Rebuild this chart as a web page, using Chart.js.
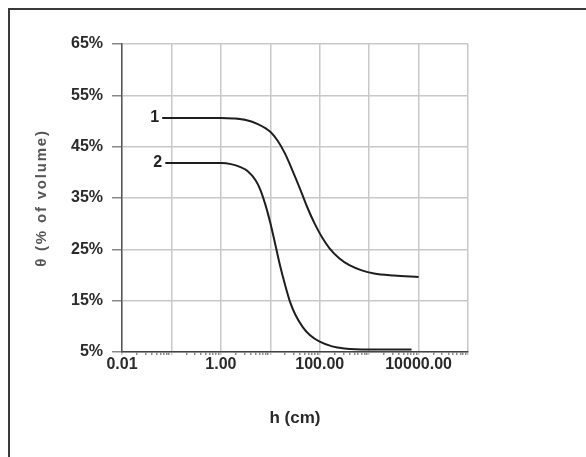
<!DOCTYPE html>
<html>
<head>
<meta charset="utf-8">
<script src="https://cdn.jsdelivr.net/npm/chart.js@4/dist/chart.umd.min.js"></script>
<style>
  html, body { margin: 0; padding: 0; background: #fff; }
  #wrap { position: relative; width: 586px; height: 457px; overflow: hidden; background: #fff; }
  #frame { position: absolute; left: 8px; top: 8px; width: 700px; height: 600px;
           border-top: 2px solid #3a3a3a; border-left: 2px solid #3a3a3a; }
  canvas { position: absolute; left: 0; top: 0; }
</style>
</head>
<body>
<div id="wrap">
  <div id="frame"></div>
  <canvas id="c" width="586" height="457"></canvas>
</div>
<script>
// ---- data ----
const curveLabels = ["1", "2"];
const hCurve1 = [0.065, 0.1, 0.32, 1, 1.8, 3.2, 5.6, 10, 14, 20, 28, 40, 56, 79, 112, 158, 251, 398, 708, 1259, 3162, 10000];
const thetaCurve1 = [50.6, 50.6, 50.6, 50.6, 50.5, 50.2, 49.4, 47.9, 46.2, 43.6, 40.4, 36.8, 33.2, 30.0, 27.3, 25.2, 23.2, 21.9, 20.9, 20.3, 19.9, 19.6];
const hCurve2 = [0.075, 0.3, 1, 1.6, 2.5, 3.5, 5, 6.3, 7.9, 10, 12.6, 15.8, 20, 25, 32, 45, 63, 100, 178, 316, 1000, 7200];
const thetaCurve2 = [41.8, 41.8, 41.8, 41.6, 41.0, 40.2, 38.5, 36.6, 33.8, 30.2, 26.0, 21.8, 18.0, 14.8, 12.3, 9.9, 8.3, 7.0, 6.1, 5.7, 5.5, 5.5];
const xDecades = [0.01, 0.1, 1, 10, 100, 1000, 10000, 100000];
const xTickLabels = ["0.01", "", "1.00", "", "100.00", "", "10000.00", ""];
const yTicks = [5, 15, 25, 35, 45, 55, 65];
const xTitle = "h (cm)";
const yTitle = "θ (% of volume)";

const FONT = "'Liberation Sans', Arial, sans-serif";

function pts(xs, ys) { return xs.map((x, i) => ({ x: x, y: ys[i] })); }

function isDecade(v) {
  return xDecades.some(d => Math.abs(v - d) / d < 1e-6);
}

const curveLabelPlugin = {
  id: 'curveLabels',
  afterDatasetsDraw(chart) {
    const ctx = chart.ctx;
    ctx.save();
    ctx.font = "bold 16px " + FONT;
    ctx.fillStyle = "#222";
    ctx.textAlign = "right";
    ctx.textBaseline = "middle";
    chart.data.datasets.forEach((ds, i) => {
      const p = chart.getDatasetMeta(i).data[0];
      ctx.fillText(curveLabels[i], p.x - 3, p.y);
    });
    ctx.restore();
  }
};

const yTitlePlugin = {
  id: 'yTitle',
  afterDraw(chart) {
    const ctx = chart.ctx;
    const a = chart.chartArea;
    ctx.save();
    ctx.translate(42, (a.top + a.bottom) / 2);
    ctx.rotate(-Math.PI / 2);
    ctx.font = "bold 15px " + FONT;
    ctx.fillStyle = "#555";
    ctx.textAlign = "center";
    ctx.textBaseline = "middle";
    try { ctx.letterSpacing = "1.8px"; } catch (e) {}
    ctx.fillText(yTitle, 0, 0);
    ctx.restore();
  }
};

new Chart(document.getElementById('c'), {
  type: 'line',
  data: {
    datasets: [
      { data: pts(hCurve1, thetaCurve1), borderColor: '#1e1e1e', borderWidth: 2,
        pointRadius: 0, fill: false, cubicInterpolationMode: 'monotone' },
      { data: pts(hCurve2, thetaCurve2), borderColor: '#1e1e1e', borderWidth: 2,
        pointRadius: 0, fill: false, cubicInterpolationMode: 'monotone' }
    ]
  },
  options: {
    responsive: false,
    animation: false,
    layout: { padding: { left: 0, top: 44, right: 118, bottom: 0 } },
    plugins: { legend: { display: false }, tooltip: { enabled: false } },
    scales: {
      x: {
        type: 'logarithmic',
        min: 0.01,
        max: 100000,
        afterBuildTicks(scale) {
          const t = [];
          for (let e = -2; e <= 4; e++) {
            for (let m = 1; m <= 9; m++) t.push({ value: m * Math.pow(10, e) });
          }
          t.push({ value: 100000 });
          scale.ticks = t;
        },
        afterFit(scale) { scale.height = 105; },
        ticks: {
          autoSkip: false,
          maxRotation: 0,
          padding: 0,
          color: '#2a2a2a',
          font: { family: FONT, size: 16, weight: 'bold' },
          callback(v) {
            const i = xDecades.findIndex(d => Math.abs(v - d) / d < 1e-6);
            return i >= 0 ? xTickLabels[i] : '';
          }
        },
        grid: {
          color: (c) => (c.tick && isDecade(c.tick.value)) ? '#c8c8c8' : 'rgba(0,0,0,0)',
          tickColor: (c) => (c.tick && isDecade(c.tick.value)) ? '#c8c8c8' : '#8a8a8a',
          lineWidth: 1.5,
          tickLength: 3
        },
        border: { color: '#444', width: 1.5 },
        title: {
          display: true,
          text: xTitle,
          color: '#2a2a2a',
          font: { family: FONT, size: 17, weight: 'bold' },
          padding: { top: 0, bottom: 28 }
        }
      },
      y: {
        type: 'linear',
        min: 5,
        max: 65,
        afterBuildTicks(scale) { scale.ticks = yTicks.map(v => ({ value: v })); },
        afterFit(scale) { scale.width = 122; },
        ticks: {
          padding: 9,
          color: '#2a2a2a',
          font: { family: FONT, size: 16, weight: 'bold' },
          callback: (v) => v + '%'
        },
        grid: {
          color: '#c8c8c8',
          tickColor: '#888',
          lineWidth: 1.5,
          tickLength: 10
        },
        border: { color: '#555', width: 1.5 },
        title: { display: false }
      }
    }
  },
  plugins: [curveLabelPlugin, yTitlePlugin]
});
</script>
</body>
</html>
